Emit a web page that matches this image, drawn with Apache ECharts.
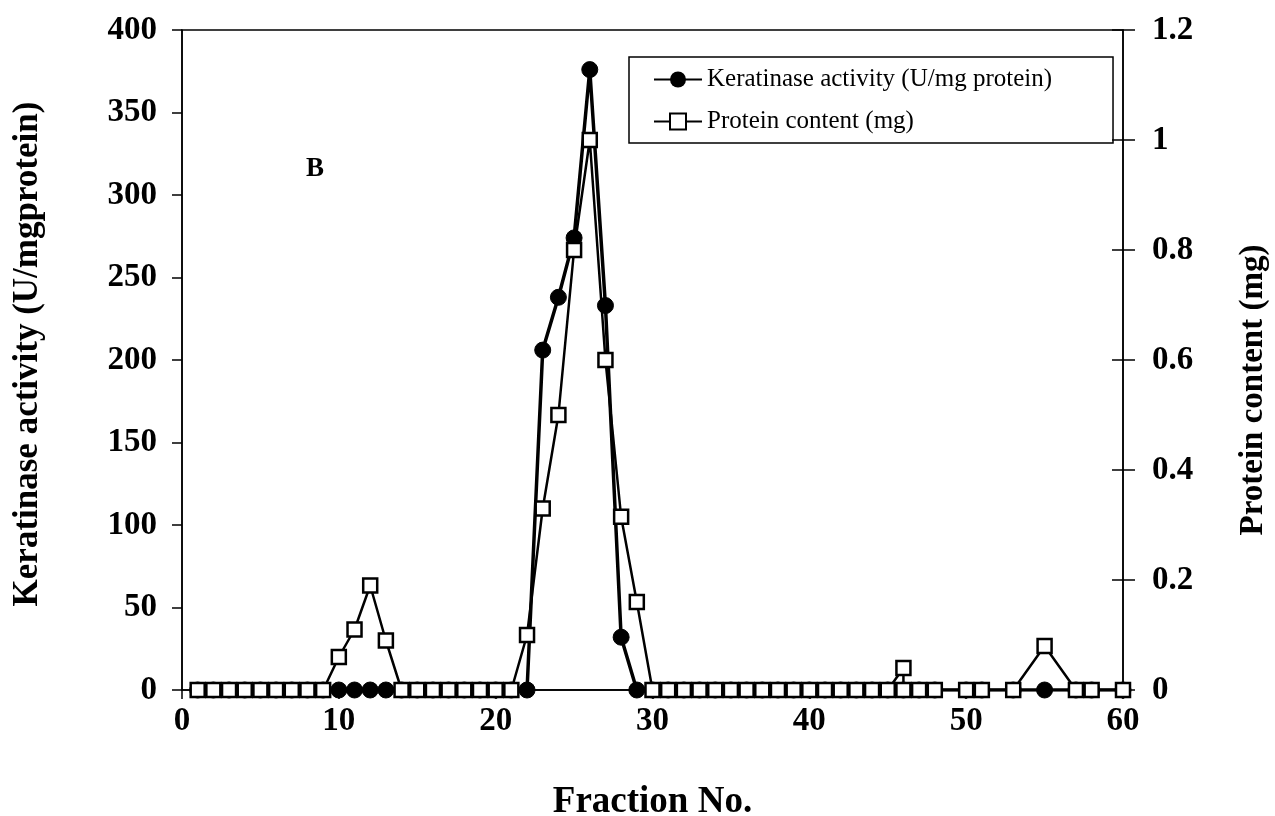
<!DOCTYPE html>
<html>
<head>
<meta charset="utf-8">
<script src="https://cdn.jsdelivr.net/npm/echarts@6/dist/echarts.min.js"></script>
<style>
  html, body { margin: 0; padding: 0; background: #fff; }
  #main { width: 1275px; height: 816px; }
</style>
</head>
<body>
<div id="main"></div>
<script>
// 数据  开始
var proteinFraction = [1, 2, 3, 4, 5, 6, 7, 8, 9, 10, 11, 12, 13, 14, 15, 16, 17, 18, 19, 20,
  21, 22, 23, 24, 25, 26, 27, 28, 29, 30, 31, 32, 33, 34, 35, 36, 37, 38, 39, 40,
  41, 42, 43, 44, 45, 46, 46, 47, 48, 50, 51, 53, 55, 57, 58, 60];
var proteinContent = [0, 0, 0, 0, 0, 0, 0, 0, 0, 0.06, 0.11, 0.19, 0.09, 0, 0, 0, 0, 0, 0, 0,
  0, 0.10, 0.33, 0.50, 0.80, 1.00, 0.60, 0.315, 0.16, 0, 0, 0, 0, 0, 0, 0, 0, 0, 0, 0,
  0, 0, 0, 0, 0, 0.04, 0, 0, 0, 0, 0, 0, 0.08, 0, 0, 0];
var keratinaseFraction = [1, 2, 3, 4, 5, 6, 7, 8, 9, 10, 11, 12, 13, 14, 15, 16, 17, 18, 19, 20,
  21, 22, 23, 24, 25, 26, 27, 28, 29, 30, 31, 32, 33, 34, 35, 36, 37, 38, 39, 40,
  41, 42, 43, 44, 45, 46, 47, 48, 50, 51, 53, 55, 57, 58, 60];
var keratinaseActivity = [0, 0, 0, 0, 0, 0, 0, 0, 0, 0, 0, 0, 0, 0, 0, 0, 0, 0, 0, 0,
  0, 0, 206, 238, 274, 376, 233, 32, 0, 0, 0, 0, 0, 0, 0, 0, 0, 0, 0, 0,
  0, 0, 0, 0, 0, 0, 0, 0, 0, 0, 0, 0, 0, 0, 0];
// 峰下的细基线
var baseFraction = [22, 29];
var baseValue = [0, 0];
// 数据  结束

function pairs(xs, ys) {
  return xs.map(function (x, i) { return [x, ys[i]]; });
}

var serif = '"Liberation Serif", "DejaVu Serif", serif';
var chart = echarts.init(document.getElementById('main'));

var option = {
  animation: false,
  backgroundColor: '#fff',
  grid: {
    left: 182, right: 152, top: 30, bottom: 126,
    outerBoundsMode: 'none',
    show: true, borderColor: '#000', borderWidth: 1.5, backgroundColor: 'transparent'
  },
  legend: {
    left: 629, top: 57,
    orient: 'vertical',
    itemWidth: 48, itemHeight: 20, itemGap: 17,
    padding: [10, 61, 9, 24],
    borderColor: '#000', borderWidth: 1.5,
    textStyle: { fontFamily: serif, fontSize: 25, color: '#000' },
    data: ['Keratinase activity (U/mg protein)', 'Protein content (mg)']
  },
  graphic: [{
    type: 'text', left: 306, top: 156,
    style: { text: 'B', font: 'bold 27px ' + serif, fill: '#000' }
  }],
  xAxis: {
    type: 'value', min: 0, max: 60, interval: 10,
    name: 'Fraction No.', nameLocation: 'middle', nameGap: 94,
    nameTextStyle: { fontFamily: serif, fontWeight: 'bold', fontSize: 37, color: '#000' },
    axisLine: { lineStyle: { color: '#000', width: 1.5 } },
    axisTick: { length: 9, lineStyle: { color: '#000', width: 1.5 } },
    axisLabel: { margin: 15, fontFamily: serif, fontWeight: 'bold', fontSize: 33, color: '#000' },
    splitLine: { show: false }
  },
  yAxis: [{
    type: 'value', min: 0, max: 400, interval: 50, position: 'left',
    name: 'Keratinase activity (U/mgprotein)', nameLocation: 'middle', nameGap: 137, nameRotate: 90,
    nameTextStyle: { fontFamily: serif, fontWeight: 'bold', fontSize: 35, color: '#000', padding: [0, 0, 0, 12] },
    axisLine: { show: true, lineStyle: { color: '#000', width: 1.5 } },
    axisTick: { show: true, length: 10, lineStyle: { color: '#000', width: 1.5 } },
    axisLabel: { margin: 25, fontFamily: serif, fontWeight: 'bold', fontSize: 33, color: '#000' },
    splitLine: { show: false }
  }, {
    type: 'value', min: 0, max: 1.2, interval: 0.2, position: 'right',
    name: 'Protein content (mg)', nameLocation: 'middle', nameGap: 114, nameRotate: 90,
    nameTextStyle: { fontFamily: serif, fontWeight: 'bold', fontSize: 33, color: '#000', padding: [0, 60, 0, 0] },
    axisLine: { show: true, lineStyle: { color: '#000', width: 1.5 } },
    axisTick: { show: true, length: 12, lineStyle: { color: '#000', width: 1.5 } },
    axisLabel: { margin: 29, fontFamily: serif, fontWeight: 'bold', fontSize: 33, color: '#000' },
    splitLine: { show: false }
  }, {
    // 右轴内侧刻度
    type: 'value', min: 0, max: 1.2, interval: 0.2, position: 'right',
    axisLine: { show: false },
    axisTick: { show: true, inside: true, length: 11, lineStyle: { color: '#000', width: 1.5 } },
    axisLabel: { show: false },
    splitLine: { show: false }
  }],
  series: [{
    name: 'base',
    type: 'line', yAxisIndex: 0, z: 1,
    showSymbol: false, symbol: 'none',
    lineStyle: { color: '#000', width: 1.2 },
    data: pairs(baseFraction, baseValue)
  }, {
    name: 'Keratinase activity (U/mg protein)',
    type: 'line', yAxisIndex: 0, z: 2,
    symbol: 'circle', symbolSize: 16,
    itemStyle: { color: '#000', borderColor: '#000' },
    lineStyle: { color: '#000', width: 3.5 },
    data: pairs(keratinaseFraction, keratinaseActivity)
  }, {
    name: 'Protein content (mg)',
    type: 'line', yAxisIndex: 1, z: 3,
    symbol: 'rect', symbolSize: 14,
    itemStyle: { color: '#fff', borderColor: '#000', borderWidth: 2.5 },
    lineStyle: { color: '#000', width: 2.5 },
    data: pairs(proteinFraction, proteinContent)
  }]
};

chart.setOption(option);
</script>
</body>
</html>
